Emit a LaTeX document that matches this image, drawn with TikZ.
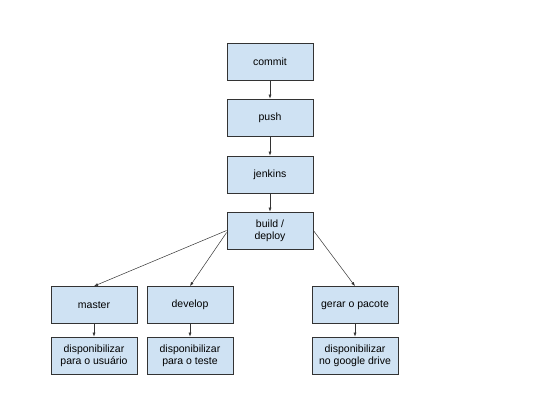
\documentclass[tikz,border=0pt]{standalone}
\usepackage{fontspec}
\setmainfont{Liberation Sans}
\usetikzlibrary{arrows.meta}
\definecolor{boxblue}{HTML}{CFE2F3}
\definecolor{boxline}{HTML}{333333}

\begin{document}
\begin{tikzpicture}[x=1pt,y=-1pt,
    stepbox/.style={draw=boxline,fill=boxblue,line width=0.8pt,minimum width=86pt,minimum height=37pt,
        align=center,inner sep=1pt,font=\fontsize{10.5}{12}\selectfont},
    link/.style={-{Latex[length=4pt,width=3pt]},line width=0.5pt,color=black!80}]
    \useasboundingbox (0,0) rectangle (540,405);
    % fluxo principal
    \node[stepbox] (commit) at (270,61.5) {commit};
    \node[stepbox] (push) at (270,117.5) {push};
    \node[stepbox] (jenkins) at (270,174.5) {jenkins};
    \node[stepbox] (build) at (270,230.5) {build /\\deploy};
    % ramos
    \node[stepbox] (master) at (94,305) {master};
    \node[stepbox] (develop) at (190,305) {develop};
    \node[stepbox] (pacote) at (355,305) {gerar o pacote};
    \node[stepbox] (usuario) at (94,355.5) {disponibilizar\\para o usuário};
    \node[stepbox] (teste) at (190,355.5) {disponibilizar\\para o teste};
    \node[stepbox] (drive) at (355,355.5) {disponibilizar\\no google drive};
    \draw[link] (commit) -- (push);
    \draw[link] (push) -- (jenkins);
    \draw[link] (jenkins) -- (build);
    \draw[link] (build.west) -- (master.north);
    \draw[link] ([yshift=-2pt]build.west) -- (develop.north);
    \draw[link] (build.east) -- (pacote.north);
    \draw[link] (master) -- (usuario);
    \draw[link] (develop) -- (teste);
    \draw[link] (pacote) -- (drive);
\end{tikzpicture}
\end{document}
